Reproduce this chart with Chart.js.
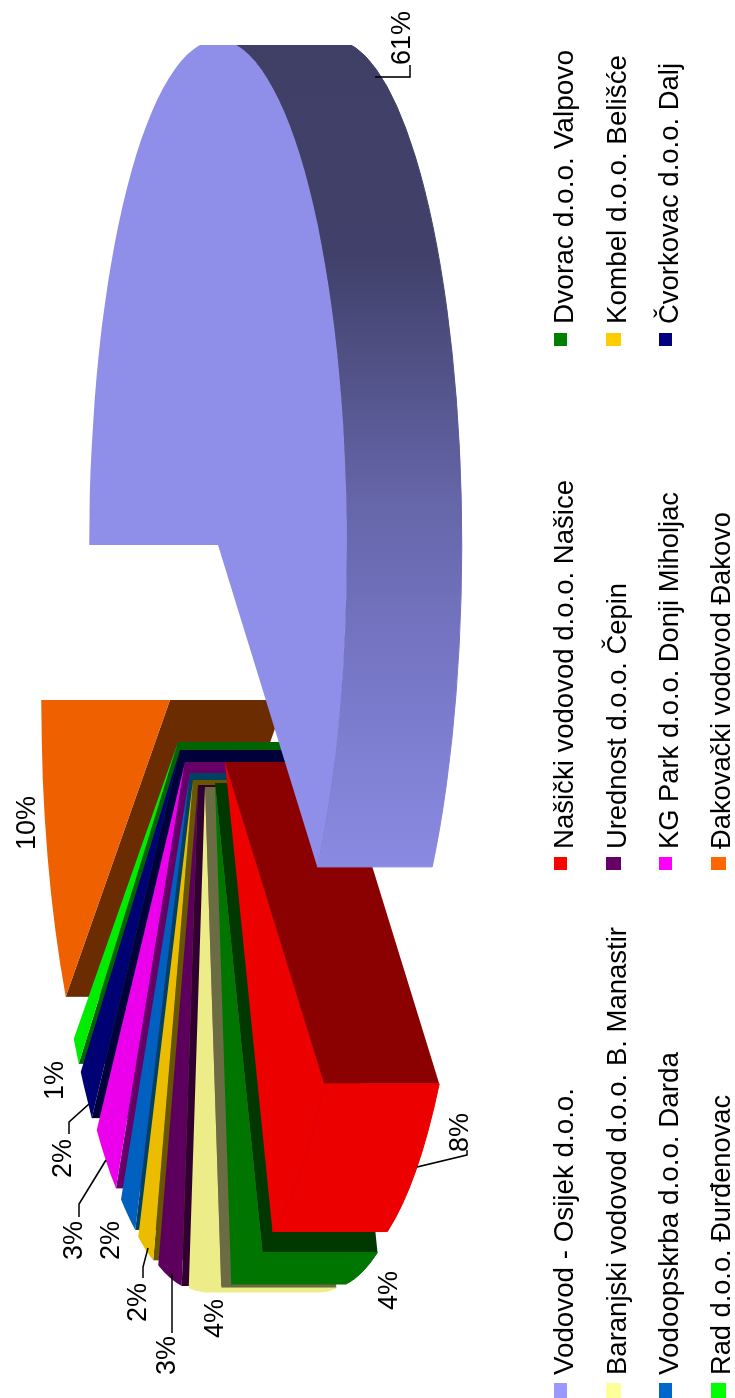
<!DOCTYPE html>
<html>
<head>
<meta charset="utf-8">
<title>Udio vodovoda</title>
<script src="https://cdn.jsdelivr.net/npm/chart.js@4/dist/chart.umd.min.js"></script>
<style>
  html, body { margin: 0; padding: 0; background: #fff; }
  #wrap { position: relative; width: 735px; height: 1398px; overflow: hidden; }
  /* the whole chart is laid out sideways, reading bottom to top */
  #pie { position: absolute; left: 0; top: 0; transform-origin: 0 0; transform: translate(0, 1398px) rotate(-90deg); }
</style>
</head>
<body>
<div id="wrap"><canvas id="pie" width="1398" height="735"></canvas></div>
<script>
const companies = [
  'Vodovod - Osijek d.o.o.', 'Našički vodovod d.o.o. Našice', 'Dvorac d.o.o. Valpovo',
  'Baranjski vodovod d.o.o. B. Manastir', 'Urednost d.o.o. Čepin', 'Kombel d.o.o. Belišće',
  'Vodoopskrba d.o.o. Darda', 'KG Park d.o.o. Donji Miholjac', 'Čvorkovac d.o.o. Dalj',
  'Rad d.o.o. Đurđenovac', 'Đakovački vodovod Đakovo'
];
const shares = [61, 8, 4, 4, 3, 2, 2, 3, 2, 1, 10];

const legendColors = ['#9999ff', '#ff0000', '#008000', '#ffff99', '#660066', '#ffcc00', '#0066cc', '#ff00ff', '#000080', '#00ff00', '#ff6600'];
const faceColors = ['#8f8fea', '#ec0000', '#007500', '#ecec88', '#5d005d', '#ebbc00', '#0060c0', '#ec00ec', '#000075', '#00ec00', '#ee6000'];
const wallColors = ['#8f8fea', '#8b0000', '#003800', '#6b6b44', '#300030', '#6a5500', '#004060', '#660066', '#00003a', '#006400', '#6a2c00'];

// how far each slice is pulled out of the pie
const pullX = [0, -217, -238, -242, -240, -235, -228, -217, -205, -197, -155];
const pullY = [0, 7, -3, -13, -20, -25, -28, -33, -38, -40, -48];

const squash = 0.255;
const depth = 115;
const clipRight = 1353;

const bigRimStops = [[0.18, '#8a8ae2'], [0.345, '#7a7acc'], [0.54, '#6666aa'], [0.79, '#40406a'], [1, '#3f3f66']];

// percent labels: left end of the baseline
const labelX = [1333, 246, 88, 60, 23, 76, 138, 138, 220, 298, 548];
const labelY = [410, 468, 397, 223, 175, 146, 119, 82, 71, 63, 35];
const leaders = [
  [[1321, 375], [1321, 410], [1333, 410]],
  [[231, 417], [243, 467], [248, 467]],
  null,
  null,
  [[125, 172], [65, 172]],
  [[150, 148], [131, 143], [120, 143]],
  null,
  [[238, 106], [194, 79], [181, 79]],
  [[294, 89], [276, 69], [264, 69]],
  null,
  null
];

// legend grid
const legendSwatchX = [0, 528, 1052];
const legendTextX = [23, 549, 1074];
const legendBaseline = [573, 626, 678, 730];
const legendSwatchTop = [554, 606, 659, 711];
const legendSwatchH = [13, 15, 13, 15];
const legendTextW = [287, 369, 274, 448, 266, 269, 323, 357, 261, 280, 337];

function drawRim(ctx, arc, i, cx, cy) {
  const from = Math.max(arc.startAngle, 0);
  const to = Math.min(arc.endAngle, Math.PI);
  if (from >= to) return;
  const R = arc.outerRadius;
  ctx.beginPath();
  ctx.ellipse(cx, cy, R, R * squash, 0, from, to);
  ctx.ellipse(cx, cy + depth, R, R * squash, 0, to, from, true);
  ctx.closePath();
  let paint = faceColors[i];
  if (i === 0) {
    paint = ctx.createLinearGradient(cx - R, 0, cx + R, 0);
    bigRimStops.forEach(s => paint.addColorStop(s[0], s[1]));
  }
  ctx.fillStyle = paint;
  ctx.strokeStyle = paint;
  ctx.lineWidth = 1;
  ctx.fill();
  ctx.stroke(); // closes the hairline seam under the top face
}

function drawWall(ctx, arc, i, cx, cy) {
  const R = arc.outerRadius;
  const rx = cx + R * Math.cos(arc.startAngle);
  const ry = cy + R * squash * Math.sin(arc.startAngle);
  ctx.beginPath();
  ctx.moveTo(cx, cy);
  ctx.lineTo(rx, ry);
  ctx.lineTo(rx, ry + depth);
  ctx.lineTo(cx, cy + depth);
  ctx.closePath();
  ctx.fillStyle = wallColors[i];
  ctx.fill();
}

const pie3d = {
  id: 'pie3d',
  beforeDatasetsDraw(chart) {
    const ctx = chart.ctx;
    const arcs = chart.getDatasetMeta(0).data;

    ctx.save();
    ctx.beginPath();
    ctx.rect(0, 0, clipRight, chart.height);
    ctx.clip();
    // back slices first, the big slice sits on top of everything
    for (let i = arcs.length - 1; i >= 0; i--) {
      const arc = arcs[i];
      const cx = arc.x + pullX[i];
      const cy = arc.y + pullY[i];
      drawWall(ctx, arc, i, cx, cy);
      drawRim(ctx, arc, i, cx, cy);
      ctx.save();
      ctx.translate(cx, cy);
      ctx.scale(1, squash);
      ctx.translate(-arc.x, -arc.y);
      arc.draw(ctx);
      ctx.restore();
    }
    ctx.restore();

    ctx.fillStyle = '#000';
    ctx.strokeStyle = '#000';
    ctx.lineWidth = 1.6;
    ctx.font = '27px "Liberation Sans", Arial, sans-serif';
    ctx.textBaseline = 'alphabetic';
    shares.forEach((v, i) => {
      ctx.fillText(v + '%', labelX[i], labelY[i]);
      if (leaders[i]) {
        ctx.beginPath();
        leaders[i].forEach((p, n) => n ? ctx.lineTo(p[0], p[1]) : ctx.moveTo(p[0], p[1]));
        ctx.stroke();
      }
    });

    // legend, three columns filled row by row
    ctx.font = '28px "Liberation Sans", Arial, sans-serif';
    companies.forEach((name, i) => {
      const col = i % 3;
      const row = Math.floor(i / 3);
      ctx.fillStyle = legendColors[i];
      ctx.fillRect(legendSwatchX[col], legendSwatchTop[row], col === 0 ? 15 : 13, legendSwatchH[row]);
      ctx.fillStyle = '#000';
      ctx.save();
      ctx.translate(legendTextX[col], legendBaseline[row]);
      ctx.scale(legendTextW[i] / ctx.measureText(name).width, 1);
      ctx.fillText(name, 0, 0);
      ctx.restore();
    });
    return false;
  }
};

new Chart(document.getElementById('pie'), {
  type: 'pie',
  data: {
    labels: companies,
    datasets: [{
      data: shares,
      backgroundColor: faceColors,
      borderWidth: 0,
      radius: 505
    }]
  },
  options: {
    responsive: false,
    animation: false,
    layout: { padding: { left: 308, bottom: 299 } },
    plugins: {
      legend: { display: false },
      tooltip: { enabled: false }
    }
  },
  plugins: [pie3d]
});
</script>
</body>
</html>
